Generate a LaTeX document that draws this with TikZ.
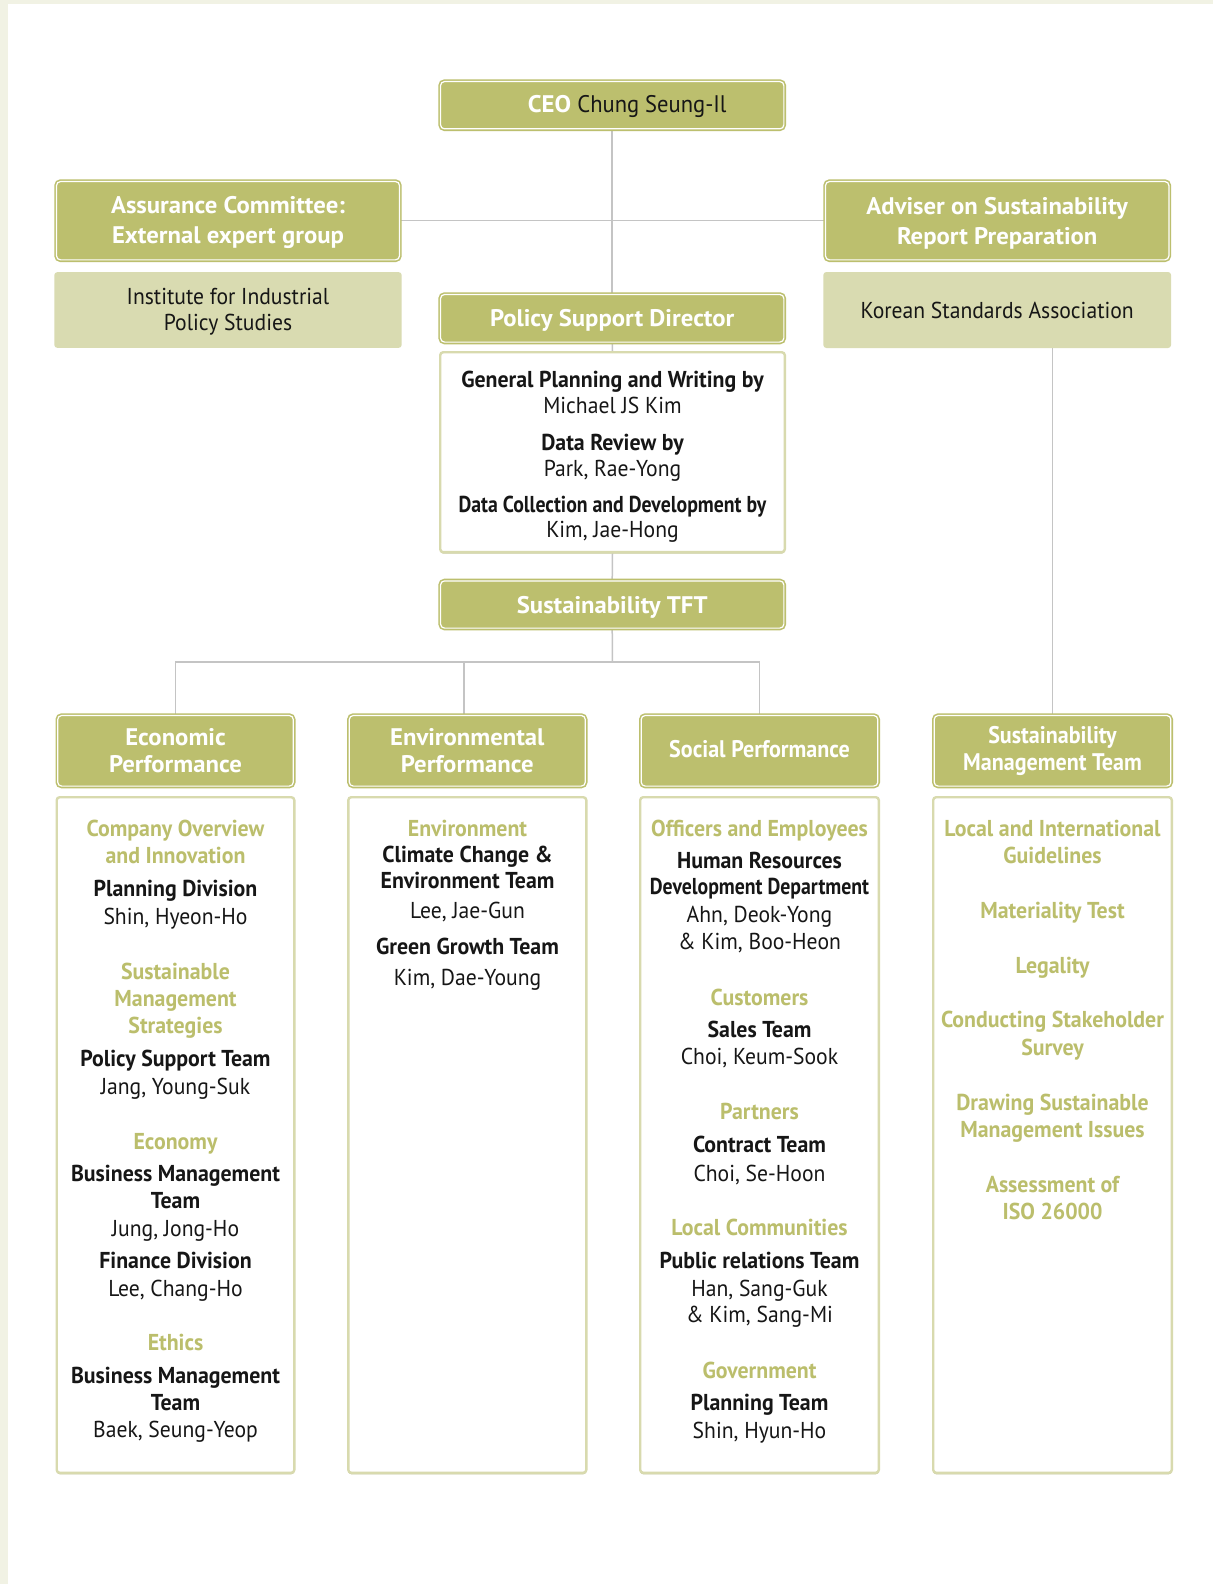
\documentclass[tikz,border=0pt]{standalone}
\usepackage{fontspec}
\setmainfont{PT Sans}[FakeStretch=0.94,BoldFeatures={FakeStretch=0.95}]
\newfontfamily\hfont{PT Sans}[FakeStretch=0.94,BoldFeatures={FakeStretch=1.03}]
\newfontfamily\hfontn{PT Sans}[FakeStretch=0.94,BoldFeatures={FakeStretch=0.92}]
\newfontfamily\nfont{PT Sans}[FakeStretch=0.86,BoldFeatures={FakeStretch=0.86}]
\usetikzlibrary{shadows}
\definecolor{hdrgreen}{RGB}{188,191,110}
\definecolor{ttlgreen}{RGB}{187,190,108}
\definecolor{lightgreen}{RGB}{217,219,177}
\definecolor{boxborder}{RGB}{216,218,174}
\definecolor{shadowc}{RGB}{200,202,160}
\definecolor{linegray}{RGB}{196,196,196}
\definecolor{creambg}{RGB}{241,242,228}
\definecolor{inkblack}{RGB}{22,22,22}
\pgfdeclarelayer{back}
\pgfdeclarelayer{lines}
\pgfsetlayers{back,lines,main}
\newcommand\fC{\fontsize{23}{26}\selectfont}
\newcommand\TL[5]{\node[#1] (#2) at (#3,#4) {#5};}
\begin{document}
\begin{tikzpicture}[x=1pt,y=-1pt,
  hdr/.style={draw=hdrgreen, double=white, double distance=1.2pt, line width=1.6pt,
    fill=hdrgreen, rounded corners=4pt, text=white, align=center, inner sep=0pt,
    font=\hfont\fontsize{24}{27.5}\selectfont\bfseries},
  one/.style={text height=16pt, text depth=2pt},
  lightbox/.style={fill=lightgreen, rounded corners=3pt, inner sep=0pt, align=center,
    text=inkblack, font=\fontsize{23}{26}\selectfont},
  cbox/.style={draw=boxborder, line width=2.4pt, fill=white, rounded corners=3pt, inner sep=0pt,
    drop shadow={shadow xshift=0pt, shadow yshift=-1.5pt, fill=shadowc, opacity=1}},
  ttl/.style={anchor=base, text=ttlgreen, font=\fC\bfseries, inner sep=0pt},
  nb/.style={anchor=base, text=inkblack, font=\fC\bfseries, inner sep=0pt},
  nr/.style={anchor=base, text=inkblack, font=\fC, inner sep=0pt},
  conn/.style={draw=linegray, line width=1.5pt}]
\useasboundingbox (0,0) rectangle (1213,1584);
\begin{pgfonlayer}{back}
\fill[creambg] (0,0) rectangle (1213,1584);
\fill[white] (8,4) rectangle (1213,1584);
\end{pgfonlayer}

% top level
\node[hdr, one, minimum width=343.3pt, minimum height=47.3pt] (ceo) at (612.2,105.2)
  {\hspace*{30pt}CEO {\mdseries\color{inkblack}Chung Seung-Il}};
\node[hdr, minimum width=343pt, minimum height=78.3pt, font=\hfont\fontsize{24}{30}\selectfont\bfseries]
  (assur) at (228,220.7) {\rule{0pt}{21.5pt}Assurance Committee:\\External expert group};
\node[hdr, minimum width=343.4pt, minimum height=78.3pt, font=\hfont\fontsize{24}{30}\selectfont\bfseries]
  (advis) at (997.2,220.7) {\rule{0pt}{21.5pt}Adviser on Sustainability\\Report Preparation};
\node[lightbox, minimum width=347.4pt, minimum height=75.7pt] (inst) at (228,310)
  {\rule{0pt}{20pt}Institute for Industrial\\Policy Studies};
\node[lightbox, minimum width=347.7pt, minimum height=76pt] (ksa) at (997.2,310)
  {Korean Standards Association};
\node[hdr, text height=17pt, text depth=0pt, minimum width=343.3pt, minimum height=47.6pt]
  (psd) at (612.2,318.3) {Policy Support Director};
\node[cbox, minimum width=344.6pt, minimum height=199.9pt] (pbox) at (612.5,452.2) {};
\node[hdr, text height=17pt, text depth=0pt, minimum width=343.3pt, minimum height=47.2pt]
  (tft) at (612.2,604.5) {Sustainability TFT};

\TL{nb}{p1}{612.5}{387}{General Planning and Writing by}
\TL{nr}{p2}{612.5}{413}{Michael JS Kim}
\TL{nb}{p3}{612.5}{450}{Data Review by}
\TL{nr}{p4}{612.5}{476}{Park, Rae-Yong}
\TL{nb}{p5}{612.5}{512}{\nfont Data Collection and Development by}
\TL{nr}{p6}{612.5}{537}{Kim, Jae-Hong}

% section headers
\node[hdr, minimum width=235.6pt, minimum height=70.6pt] (econ) at (175.5,750.8) {Economic\\Performance};
\node[hdr, minimum width=236pt, minimum height=70.6pt] (envi) at (467.3,750.8) {Environmental\\Performance};
\node[hdr, one, minimum width=236.6pt, minimum height=70.6pt, font=\hfontn\fontsize{24}{27.5}\selectfont\bfseries]
  (soci) at (759.5,750.8) {Social Performance};
\node[hdr, minimum width=236.6pt, minimum height=70.6pt, font=\hfontn\fontsize{24}{27.5}\selectfont\bfseries]
  (smt) at (1052.5,750.8) {Sustainability\\Management Team};

% content boxes
\node[cbox, minimum width=237.6pt, minimum height=675.6pt] (econbox) at (175.5,1135) {};
\node[cbox, minimum width=238pt, minimum height=675.6pt] (envibox) at (467.3,1135) {};
\node[cbox, minimum width=238.6pt, minimum height=675.6pt] (socibox) at (759.5,1135) {};
\node[cbox, minimum width=238.6pt, minimum height=675.6pt] (smtbox) at (1052.5,1135) {};

% economic
\TL{ttl}{e1}{175.5}{836}{Company Overview}
\TL{ttl}{e2}{175.5}{863}{and Innovation}
\TL{nb}{e3}{175.5}{896}{Planning Division}
\TL{nr}{e4}{175.5}{924}{Shin, Hyeon-Ho}
\TL{ttl}{e5}{175.5}{979}{Sustainable}
\TL{ttl}{e6}{175.5}{1006}{Management}
\TL{ttl}{e7}{175.5}{1033}{Strategies}
\TL{nb}{e8}{175.5}{1066}{Policy Support Team}
\TL{nr}{e9}{175.5}{1094}{Jang, Young-Suk}
\TL{ttl}{e10}{175.5}{1149}{Economy}
\TL{nb}{e11}{175.5}{1181}{Business Management}
\TL{nb}{e12}{175.5}{1208}{Team}
\TL{nr}{e13}{175.5}{1236}{Jung, Jong-Ho}
\TL{nb}{e14}{175.5}{1268}{Finance Division}
\TL{nr}{e15}{175.5}{1296}{Lee, Chang-Ho}
\TL{ttl}{e16}{175.5}{1350}{Ethics}
\TL{nb}{e17}{175.5}{1383}{Business Management}
\TL{nb}{e18}{175.5}{1410}{Team}
\TL{nr}{e19}{175.5}{1437}{Baek, Seung-Yeop}

% environmental
\TL{ttl}{v1}{467.5}{836}{Environment}
\TL{nb}{v2}{467.5}{862}{Climate Change \&}
\TL{nb}{v3}{467.5}{888}{Environment Team}
\TL{nr}{v4}{467.5}{918}{Lee, Jae-Gun}
\TL{nb}{v5}{467.5}{954}{Green Growth Team}
\TL{nr}{v6}{467.5}{985}{Kim, Dae-Young}

% social
\TL{ttl}{s1}{759.5}{836}{Officers and Employees}
\TL{nb}{s2}{759.5}{868}{Human Resources}
\TL{nb}{s3}{759.5}{894}{\nfont Development Department}
\TL{nr}{s4}{759.5}{922}{Ahn, Deok-Yong}
\TL{nr}{s5}{759.5}{949}{\& Kim, Boo-Heon}
\TL{ttl}{s6}{759.5}{1005}{Customers}
\TL{nb}{s7}{759.5}{1037}{Sales Team}
\TL{nr}{s8}{759.5}{1064}{Choi, Keum-Sook}
\TL{ttl}{s9}{759.5}{1119}{Partners}
\TL{nb}{s10}{759.5}{1152}{Contract Team}
\TL{nr}{s11}{759.5}{1181}{Choi, Se-Hoon}
\TL{ttl}{s12}{759.5}{1235}{Local Communities}
\TL{nb}{s13}{759.5}{1268}{Public relations Team}
\TL{nr}{s14}{759.5}{1296}{Han, Sang-Guk}
\TL{nr}{s15}{759.5}{1322}{\& Kim, Sang-Mi}
\TL{ttl}{s16}{759.5}{1378}{Government}
\TL{nb}{s17}{759.5}{1410}{Planning Team}
\TL{nr}{s18}{759.5}{1438}{Shin, Hyun-Ho}

% sustainability management team
\TL{ttl}{m1}{1052.5}{836}{Local and International}
\TL{ttl}{m2}{1052.5}{863}{Guidelines}
\TL{ttl}{m3}{1052.5}{918}{Materiality Test}
\TL{ttl}{m4}{1052.5}{973}{Legality}
\TL{ttl}{m5}{1052.5}{1027}{Conducting Stakeholder}
\TL{ttl}{m6}{1052.5}{1055}{Survey}
\TL{ttl}{m7}{1052.5}{1110}{Drawing Sustainable}
\TL{ttl}{m8}{1052.5}{1137}{Management Issues}
\TL{ttl}{m9}{1052.5}{1192}{Assessment of}
\TL{ttl}{m10}{1052.5}{1219}{ISO 26000}

% connectors
\coordinate (bus) at (612.5,662);
\begin{pgfonlayer}{lines}
\draw[conn] (ceo.south) -- (psd.north);
\draw[conn] (assur.east) -- (advis.west);
\draw[conn] (psd.south) -- (pbox.north);
\draw[conn] (pbox.south) -- (tft.north);
\draw[conn] (tft.south) -- (bus);
\draw[conn] (econ.north) |- (bus) -| (soci.north);
\draw[conn] ([xshift=-3.5pt]envi.north) -- ([xshift=-3.5pt]envi.north |- bus);
\draw[conn] (smt.north) -- (smt.north |- ksa.south);
\end{pgfonlayer}
\end{tikzpicture}
\end{document}
